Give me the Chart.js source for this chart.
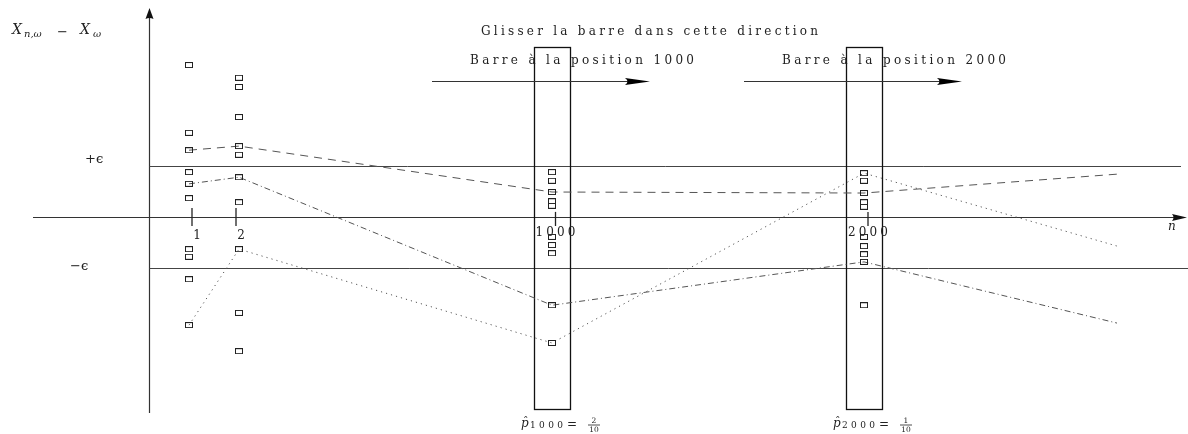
<!DOCTYPE html>
<html><head><meta charset="utf-8">
<script src="https://cdn.jsdelivr.net/npm/chart.js@4/dist/chart.umd.min.js"></script>
<style>html,body{margin:0;padding:0;background:#fff;overflow:hidden}canvas{display:block}</style>
</head><body>
<canvas id="c" width="1188" height="434"></canvas>
<script>
// ---- data (values of X_{n,ω} − X_ω expressed in units of ε) ----
const nLabels = ['1', '2', '1000', '2000'];
const nPos = [40, 90, 403, 715];          // schematic positions along the n axis
const nEndPos = 968;                      // where the sample paths stop
const tickPos = [43, 87, 406.5, 719];
const samplesN1 = [2.98, 1.65, 1.31, 0.88, 0.65, 0.37, -0.63, -0.78, -1.22, -2.12];
const samplesN2 = [2.73, 2.55, 1.96, 1.39, 1.22, 0.78, 0.29, -0.63, -1.88, -2.63];
const samplesN1000 = [0.88, 0.71, 0.49, 0.31, 0.22, -0.39, -0.55, -0.71, -1.73, -2.47];
const samplesN2000 = [0.86, 0.71, 0.47, 0.29, 0.20, -0.39, -0.57, -0.73, -0.88, -1.73];
const pathDashed = [1.31, 1.39, 0.49, 0.47, 0.84];
const pathDashDot = [0.65, 0.78, -1.73, -0.88, -2.08];
const pathDotted = [-2.12, -0.63, -2.47, 0.86, -0.57];
const epsilon = 1;
const barN = ['1000', '2000'];
const barIdx = [2, 3];
const pHatNum = ['2', '1'];
const pHatDen = ['10', '10'];

// ---- styling ----
const SERIF = '"DejaVu Serif", "Liberation Serif", serif';
const INK = '#222';

const sq = document.createElement('canvas');
sq.width = 8; sq.height = 6;
(function () {
  const g = sq.getContext('2d');
  g.strokeStyle = '#222'; g.lineWidth = 1;
  g.strokeRect(0.5, 0.5, 7, 5);
})();

function scatterSet(vals, i) {
  return {
    type: 'scatter',
    data: vals.map(v => ({ x: nPos[i], y: v })),
    pointStyle: sq, pointRadius: 4, showLine: false, order: 0
  };
}
function pathSet(vals, dash) {
  return {
    type: 'line',
    data: nPos.concat([nEndPos]).map((x, i) => ({ x: x, y: vals[i] })),
    borderColor: '#555', borderWidth: 1, borderDash: dash,
    pointRadius: 0, fill: false, tension: 0, order: 1
  };
}

function fitText(ctx, s, left, base, font, width, color) {
  ctx.font = font;
  ctx.letterSpacing = '0px';
  let ls = 0;
  if (width && s.length > 1) {
    const w = ctx.measureText(s).width;
    ls = (width - w) / (s.length - 1);
  }
  ctx.letterSpacing = ls + 'px';
  ctx.fillStyle = color || INK;
  ctx.textAlign = 'left';
  ctx.textBaseline = 'alphabetic';
  ctx.fillText(s, left, base);
  ctx.letterSpacing = '0px';
}
function arrowHead(ctx, tx, ty, dir, len, half) {
  ctx.beginPath();
  if (dir === 'right') {
    ctx.moveTo(tx, ty); ctx.lineTo(tx - len, ty - half);
    ctx.quadraticCurveTo(tx - len * 0.8, ty, tx - len, ty + half);
  } else {
    ctx.moveTo(tx, ty); ctx.lineTo(tx - half, ty + len);
    ctx.quadraticCurveTo(tx, ty + len * 0.8, tx + half, ty + len);
  }
  ctx.closePath(); ctx.fill();
}

const diagram = {
  id: 'diagram',
  beforeDatasetsDraw(c) {
    const ctx = c.ctx, X = c.scales.x, Y = c.scales.y;
    const px = v => X.getPixelForValue(v), py = v => Y.getPixelForValue(v);
    ctx.save();
    ctx.strokeStyle = '#333'; ctx.fillStyle = '#111';
    ctx.lineWidth = 1.2;
    const y0 = Math.round(py(0)) + 0.5, xa = Math.round(px(0)) + 0.5;
    // n axis
    ctx.beginPath(); ctx.moveTo(px(-116), y0); ctx.lineTo(px(1030), y0); ctx.stroke();
    arrowHead(ctx, px(1038), y0, 'right', 15, 3.5);
    // vertical axis
    ctx.beginPath(); ctx.moveTo(xa, py(-3.843)); ctx.lineTo(xa, py(3.95)); ctx.stroke();
    arrowHead(ctx, xa, py(4.098), 'up', 11, 4);
    // ±ε lines
    ctx.lineWidth = 1; ctx.strokeStyle = '#444';
    ctx.beginPath(); ctx.moveTo(xa, Math.round(py(epsilon)) + 0.5); ctx.lineTo(px(1032), Math.round(py(epsilon)) + 0.5); ctx.stroke();
    ctx.beginPath(); ctx.moveTo(xa, Math.round(py(-epsilon)) + 0.5); ctx.lineTo(px(1039), Math.round(py(-epsilon)) + 0.5); ctx.stroke();
    // ticks
    ctx.lineWidth = 1.3; ctx.strokeStyle = '#222';
    tickPos.forEach((t, i) => {
      const top = i < 2 ? 0.176 : 0.1;
      ctx.beginPath(); ctx.moveTo(px(t), py(top)); ctx.lineTo(px(t), py(-0.176)); ctx.stroke();
    });
    // sliding bars
    ctx.lineWidth = 1.3; ctx.strokeStyle = '#111';
    barIdx.forEach(k => {
      const x0 = Math.round(px(nPos[k] - 18)) + 0.5, x1 = Math.round(px(nPos[k] + 18)) + 0.5;
      const yt = Math.round(py(3.339)) + 0.5, yb = Math.round(py(-3.765)) + 0.5;
      ctx.strokeRect(x0, yt, x1 - x0, yb - yt);
    });
    // direction arrows
    ctx.lineWidth = 1.1; ctx.strokeStyle = '#333'; ctx.fillStyle = '#000';
    barIdx.forEach(k => {
      const y = Math.round(py(2.667)) + 0.5;
      ctx.beginPath(); ctx.moveTo(px(nPos[k] - 120), y); ctx.lineTo(px(nPos[k] + 80), y); ctx.stroke();
      arrowHead(ctx, px(nPos[k] + 98), y, 'right', 25, 3.5);
    });
    ctx.restore();
  },
  afterDraw(c) {
    const ctx = c.ctx, X = c.scales.x, Y = c.scales.y;
    const px = v => X.getPixelForValue(v), py = v => Y.getPixelForValue(v);
    ctx.save();
    const F = s => s + 'px ' + SERIF;
    const FI = s => 'italic ' + s + 'px ' + SERIF;
    // titles
    fitText(ctx, 'Glisser la barre dans cette direction', 481, 35, F(12), 337);
    barIdx.forEach((k, j) => {
      fitText(ctx, 'Barre à la position ' + barN[j], px(nPos[k]) - 82, 64, F(12), 224);
    });
    // tick labels
    const dx = [5, 5, 0, 0];
    nLabels.forEach((l, i) => {
      const w = l.length > 1 ? 40 : 0;
      ctx.font = F(12);
      const nat = w || ctx.measureText(l).width;
      const base = i < 2 ? 239 : 236;
      fitText(ctx, l, px(tickPos[i]) + dx[i] - nat / 2, base, F(12), w);
    });
    // axis labels
    fitText(ctx, 'X', 12, 34, FI(14));
    fitText(ctx, 'n,ω', 24, 37, FI(10));
    fitText(ctx, '−', 57, 36, F(13));
    fitText(ctx, 'X', 80, 34, FI(14));
    fitText(ctx, 'ω', 93, 37, FI(10));
    fitText(ctx, 'n', 1168, 230, FI(12));
    fitText(ctx, '+ϵ', 85, 163, F(13));
    fitText(ctx, '−ϵ', 70, 270, F(13));
    // estimated proportions under the bars
    barIdx.forEach((k, j) => {
      const L = px(nPos[k]) - 31;
      fitText(ctx, 'p', L, 427, FI(12));
      fitText(ctx, 'ˆ', L + 2, 425, F(11));
      fitText(ctx, barN[j], L + 9, 428, F(9), 33);
      fitText(ctx, '=', L + 46, 428, F(12));
      ctx.font = F(7.5);
      const cx = L + 73;
      const wn = ctx.measureText(pHatNum[j]).width, wd = ctx.measureText(pHatDen[j]).width;
      fitText(ctx, pHatNum[j], cx - wn / 2, 423, F(7.5));
      fitText(ctx, pHatDen[j], cx - wd / 2, 432, F(7.5));
      ctx.strokeStyle = INK; ctx.lineWidth = 0.8;
      ctx.beginPath(); ctx.moveTo(cx - 6, 425); ctx.lineTo(cx + 6, 425); ctx.stroke();
    });
    ctx.restore();
  }
};

new Chart(document.getElementById('c'), {
  data: {
    datasets: [
      pathSet(pathDashed, [8, 6]),
      pathSet(pathDashDot, [6, 3, 1, 3]),
      pathSet(pathDotted, [1.2, 4]),
      scatterSet(samplesN1, 0),
      scatterSet(samplesN2, 1),
      scatterSet(samplesN1000, 2),
      scatterSet(samplesN2000, 3)
    ]
  },
  options: {
    responsive: false, animation: false, devicePixelRatio: 1,
    layout: { padding: 0, autoPadding: false },
    plugins: { legend: { display: false }, tooltip: { enabled: false } },
    scales: {
      x: { type: 'linear', min: -149, max: 1039, display: false },
      y: { type: 'linear', min: -217 / 51, max: 217 / 51, display: false }
    },
    elements: { point: { hoverRadius: 4 } }
  },
  plugins: [diagram]
});
</script>
</body></html>
